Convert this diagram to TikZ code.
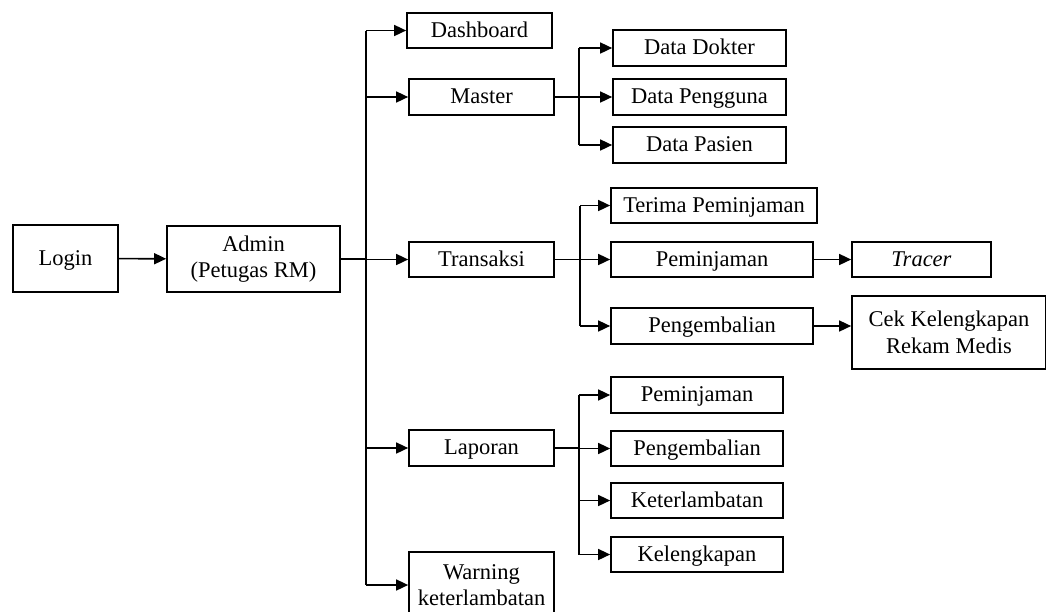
\documentclass[tikz,border=0pt]{standalone}
\usepackage{fontspec}
\setmainfont{Liberation Serif}
\usetikzlibrary{arrows.meta}
\begin{document}
\begin{tikzpicture}[x=1pt,y=-1pt,
  box/.style={draw, line width=1.7pt, inner sep=0pt, align=center,
    font=\fontsize{22.5}{26.5}\selectfont},
  one/.style={box, text height=16.5pt, text depth=3.5pt},
  arr/.style={line width=1.6pt, -{Triangle[length=12pt,width=11pt]}},
  ln/.style={line width=1.6pt}]
\fill[white] (0,0) rectangle (1046,611);
\useasboundingbox (0,0) rectangle (1046,611);
% main column
\node[one, minimum width=105pt, minimum height=67pt] (login) at (65.5,258.5) {Login};
\node[box, minimum width=173pt, minimum height=66pt] (admin) at (253.5,259) {Admin\\(Petugas RM)};
\node[one, minimum width=145pt, minimum height=35pt] (dash) at (479.5,30.5) {Dashboard};
\node[one, minimum width=145pt, minimum height=36pt] (master) at (481.5,97) {Master};
\node[one, minimum width=145pt, minimum height=35pt] (trans) at (481.5,259.5) {Transaksi};
\node[one, minimum width=145pt, minimum height=36pt] (lap) at (481.5,448) {Laporan};
\node[box, minimum width=145pt, minimum height=66pt] (warn) at (481.5,585) {Warning\\keterlambatan};
% master children
\node[one, minimum width=173pt, minimum height=36pt] (dok) at (699.5,48) {Data Dokter};
\node[one, minimum width=173pt, minimum height=36pt] (peng) at (699.5,97) {Data Pengguna};
\node[one, minimum width=173pt, minimum height=36pt] (pas) at (699.5,145) {Data Pasien};
% transaksi children
\node[one, minimum width=206pt, minimum height=35pt] (terima) at (714,205.5) {Terima Peminjaman};
\node[one, minimum width=202pt, minimum height=35pt] (pinjam) at (712,259.5) {Peminjaman};
\node[one, minimum width=139pt, minimum height=35pt] (tracer) at (921.5,259.5) {\textit{Tracer}};
\node[one, minimum width=202pt, minimum height=36pt] (kembali) at (712,326) {Pengembalian};
\node[box, minimum width=194pt, minimum height=73pt] (cek) at (949,332.5) {Cek Kelengkapan\\Rekam Medis};
% laporan children
\node[one, minimum width=172pt, minimum height=36pt] (lpinjam) at (697,395) {Peminjaman};
\node[one, minimum width=172pt, minimum height=35pt] (lkembali) at (697,448.5) {Pengembalian};
\node[one, minimum width=172pt, minimum height=35pt] (lterlambat) at (697,500.5) {Keterlambatan};
\node[one, minimum width=172pt, minimum height=35pt] (llengkap) at (697,554.5) {Kelengkapan};
% coordinates
\coordinate (tTop) at (366,30.5);
\coordinate (tBot) at (366,585);
\coordinate (mTop) at (579,48);
\coordinate (mBot) at (579,145);
\coordinate (sTop) at (580,205.5);
\coordinate (sBot) at (580,326);
\coordinate (lTop) at (579,395);
\coordinate (lBot) at (579,554.5);
% connectors
\draw[arr] (login) -- (admin);
\draw[ln] (tTop) -- (tBot);
\draw[ln] (admin.east) -- (admin.east -| tTop);
\draw[arr] (tTop) -- (dash.west);
\draw[arr] (master.west -| tTop) -- (master.west);
\draw[arr] (trans.west -| tTop) -- (trans.west);
\draw[arr] (lap.west -| tTop) -- (lap.west);
\draw[arr] (tBot) -- (warn.west |- tBot);
% master sub
\draw[ln] (mTop) -- (mBot);
\draw[ln] (master.east) -- (master.east -| mTop);
\draw[arr] (mTop) -- (dok.west);
\draw[arr] (peng.west -| mTop) -- (peng.west);
\draw[arr] (mBot) -- (pas.west);
% transaksi sub
\draw[ln] (sTop) -- (sBot);
\draw[ln] (trans.east) -- (trans.east -| sTop);
\draw[arr] (sTop) -- (terima.west);
\draw[arr] (pinjam.west -| sTop) -- (pinjam.west);
\draw[arr] (sBot) -- (kembali.west);
\draw[arr] (pinjam) -- (tracer);
\draw[arr] (kembali.east) -- (kembali.east -| cek.west);
% laporan sub
\draw[ln] (lTop) -- (lBot);
\draw[ln] (lap.east) -- (lap.east -| lTop);
\draw[arr] (lTop) -- (lpinjam.west);
\draw[arr] (lkembali.west -| lTop) -- (lkembali.west);
\draw[arr] (lterlambat.west -| lTop) -- (lterlambat.west);
\draw[arr] (lBot) -- (llengkap.west);
\end{tikzpicture}
\end{document}
